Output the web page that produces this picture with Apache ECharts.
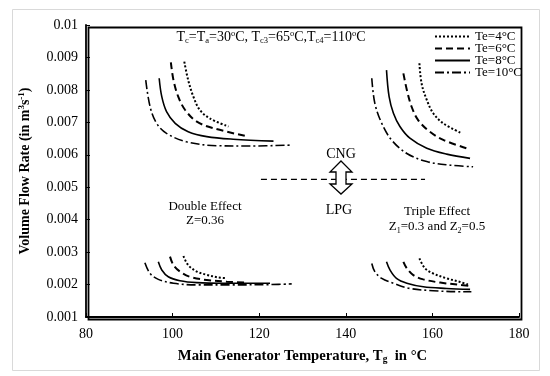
<!DOCTYPE html>
<html><head><meta charset="utf-8">
<script src="https://cdn.jsdelivr.net/npm/echarts@6/dist/echarts.min.js"></script>
<style>html,body{margin:0;padding:0;background:#fff}#c{width:550px;height:376px}</style>
</head><body><div id="c"></div>
<script>
// Axis ranges
const xRange = [80, 180, 20];
const yRange = [0.001, 0.01, 0.001];
const legendNames = ['Te=4°C', 'Te=6°C', 'Te=8°C', 'Te=10°C'];

// Double effect, CNG (upper group)
const de_cng_4 = [[102.7,0.00887],[103.6,0.0083],[104.8,0.00779],[106.3,0.00738],[108.6,0.00712],[112.9,0.00687]];
const de_cng_6 = [[99.6,0.00885],[100.2,0.0083],[101.3,0.00779],[102.9,0.00738],[105.6,0.00702],[109.4,0.00682],[117.5,0.00656]];
const de_cng_8 = [[96.9,0.00836],[97.5,0.00779],[98.6,0.00733],[100.6,0.00697],[103.6,0.00671],[107.9,0.00656],[114.0,0.00648],[123.3,0.00642]];
const de_cng_10 = [[93.8,0.0083],[94.8,0.00748],[96.3,0.00697],[98.6,0.00666],[103.2,0.0064],[110.2,0.00628],[117.9,0.00627],[127.5,0.0063]];
// Triple effect, CNG
const te_cng_4 = [[157.0,0.00882],[157.5,0.0082],[158.7,0.00769],[160.2,0.00728],[162.5,0.00697],[166.8,0.00666]];
const te_cng_6 = [[153.3,0.00851],[154.1,0.008],[155.2,0.00748],[156.7,0.00707],[159.4,0.00671],[162.5,0.00646],[167.9,0.0062]];
const te_cng_8 = [[149.4,0.00861],[150.0,0.00779],[151.0,0.00728],[152.5,0.00687],[154.8,0.00651],[158.7,0.0062],[163.3,0.00602],[168.7,0.00589]];
const te_cng_10 = [[146.0,0.00836],[146.7,0.00759],[148.3,0.00697],[150.6,0.00645],[154.1,0.00604],[158.7,0.00579],[164.1,0.00568],[169.4,0.00563]];
// Double effect, LPG (lower group)
const de_lpg_4 = [[102.5,0.00288],[103.6,0.0026],[105.6,0.0024],[107.9,0.0023],[110.5,0.00222],[112.3,0.0022]];
const de_lpg_6 = [[99.4,0.00286],[100.2,0.0026],[101.7,0.0024],[104.0,0.00224],[107.9,0.00214],[112.5,0.00209],[117.1,0.00206]];
const de_lpg_8 = [[96.7,0.0027],[97.5,0.00245],[99.0,0.00224],[101.7,0.00212],[105.6,0.00206],[111.7,0.00204],[122.5,0.00204]];
const de_lpg_10 = [[93.6,0.00267],[94.8,0.00234],[96.7,0.00216],[100.2,0.00204],[105.6,0.00199],[113.3,0.00199],[122.5,0.002],[127.5,0.00202]];
// Triple effect, LPG
const te_lpg_4 = [[157.0,0.00281],[158.3,0.0025],[160.2,0.00234],[163.3,0.00219],[166.4,0.00208],[168.2,0.002]];
const te_lpg_6 = [[153.3,0.0027],[154.1,0.0025],[155.6,0.00229],[157.9,0.00216],[161.8,0.00206],[166.4,0.00199],[168.3,0.00196]];
const te_lpg_8 = [[149.4,0.0027],[150.2,0.00245],[151.7,0.00219],[154.1,0.00204],[157.9,0.00193],[163.3,0.00188],[168.7,0.00185]];
const te_lpg_10 = [[146.0,0.00265],[146.7,0.0024],[148.3,0.00219],[151.0,0.00204],[154.8,0.00188],[160.2,0.00181],[166.4,0.00178],[169.0,0.00178]];
// CNG / LPG separator
const separator = [[120.4,0.00524],[158.3,0.00524]];

const groups = {
  'Te=4°C': [de_cng_4, te_cng_4, de_lpg_4, te_lpg_4],
  'Te=6°C': [de_cng_6, te_cng_6, de_lpg_6, te_lpg_6],
  'Te=8°C': [de_cng_8, te_cng_8, de_lpg_8, te_lpg_8],
  'Te=10°C': [de_cng_10, te_cng_10, de_lpg_10, te_lpg_10]
};
const styles = {
  'Te=4°C': {type: [2, 2], width: 2},
  'Te=6°C': {type: [7, 4], width: 2},
  'Te=8°C': {type: 'solid', width: 1.6},
  'Te=10°C': {type: [9, 3, 2, 3], width: 1.6}
};

const F = 'Liberation Serif, Times New Roman, serif';
const series = [];
legendNames.forEach(n => {
  groups[n].forEach(d => {
    series.push({
      name: n, type: 'line', data: d, symbol: 'none', smooth: 0.35,
      lineStyle: Object.assign({color: '#000'}, styles[n]),
      itemStyle: {color: '#000'}, silent: true, animation: false
    });
  });
});
series.push({
  name: 'sep', type: 'line', data: separator, symbol: 'none',
  lineStyle: {color: '#000', type: [6, 4], width: 1.3}, animation: false
});

const chart = echarts.init(document.getElementById('c'), null, {renderer: 'canvas'});
chart.setOption({
  backgroundColor: '#fff',
  animation: false,
  grid: {left: 86, right: 31, top: 25, bottom: 59, show: false},
  legend: {
    data: legendNames, orient: 'vertical', left: 434, top: 30,
    itemWidth: 35, itemHeight: 11, itemGap: -1, padding: 0,
    itemStyle: {opacity: 0},
    textStyle: {fontFamily: F, fontSize: 13, lineHeight: 12, color: '#000'}
  },
  xAxis: {
    type: 'value', min: xRange[0], max: xRange[1], interval: xRange[2],
    name: 'Main Generator Temperature, {s|T}{sub|g}{s|  in °C}',
    nameLocation: 'middle', nameGap: 30,
    nameTextStyle: {fontFamily: F, fontSize: 14.7, fontWeight: 'bold', color: '#000',
      rich: {s: {fontFamily: F, fontSize: 14.7, fontWeight: 'bold', color: '#000'},
             sub: {fontFamily: F, fontSize: 9.5, fontWeight: 'bold', color: '#000', verticalAlign: 'bottom', padding: [8, 0, 0, 0]}}},
    axisLine: {onZero: false, lineStyle: {color: '#000', width: 1.8}},
    axisTick: {inside: true, length: 4, lineStyle: {color: '#000'}},
    axisLabel: {fontFamily: F, fontSize: 14, color: '#000', margin: 10},
    splitLine: {show: false}
  },
  yAxis: {
    type: 'value', min: yRange[0], max: yRange[1], interval: yRange[2],
    name: 'Volume Flow Rate (in m{sup|3}s{sup|-1})',
    nameLocation: 'middle', nameGap: 52, nameRotate: 90,
    nameTextStyle: {fontFamily: F, fontSize: 14, fontWeight: 'bold', color: '#000',
      rich: {sup: {fontFamily: F, fontSize: 9, fontWeight: 'bold', color: '#000', verticalAlign: 'top', padding: [0, 0, 8, 0]}}},
    axisLine: {onZero: false, lineStyle: {color: '#000', width: 1.8}},
    axisTick: {inside: true, length: 4, lineStyle: {color: '#000'}},
    axisLabel: {fontFamily: F, fontSize: 14, color: '#000', margin: 8,
      formatter: v => String(+v.toFixed(3))},
    splitLine: {show: false}
  },
  graphic: [
    {type: 'rect', left: 10, top: 7, shape: {width: 527, height: 361}, style: {fill: 'none', stroke: '#d9d9d9', lineWidth: 1}, z: -1, silent: true},
    {type: 'rect', left: 86, top: 25, shape: {width: 433, height: 292}, style: {fill: 'none', stroke: '#000', lineWidth: 1.8}, z: 50, silent: true},
    {type: 'text', x: 271, y: 37, z: 100, style: {
      text: 'T{sb|c}=T{sb|a}=30{sp|o}C, T{sb|c3}=65{sp|o}C,T{sb|c4}=110{sp|o}C',
      fontFamily: F, fontSize: 14, fill: '#000', align: 'center', verticalAlign: 'middle',
      rich: {sb: {fontSize: 8.5, fontFamily: F, verticalAlign: 'bottom', padding: [7, 0, 0, 0]},
             sp: {fontSize: 8.5, fontFamily: F, verticalAlign: 'top', padding: [0, 0, 6, 0]}}}},
    {type: 'text', x: 341, y: 154, z: 100, style: {text: 'CNG', fontFamily: F, fontSize: 14, fill: '#000', align: 'center', verticalAlign: 'middle'}},
    {type: 'text', x: 339, y: 210, z: 100, style: {text: 'LPG', fontFamily: F, fontSize: 14, fill: '#000', align: 'center', verticalAlign: 'middle'}},
    {type: 'polygon', z: 100, shape: {points: [[341,161],[352,172],[346,172],[346,184],[352,184],[341,194],[330,184],[336,184],[336,172],[330,172]]},
      style: {fill: '#fff', stroke: '#000', lineWidth: 1.3}},
    {type: 'text', x: 205, y: 207, z: 100, style: {text: 'Double Effect', fontFamily: F, fontSize: 13, fill: '#000', align: 'center', verticalAlign: 'middle'}},
    {type: 'text', x: 205, y: 221, z: 100, style: {text: 'Z=0.36', fontFamily: F, fontSize: 13, fill: '#000', align: 'center', verticalAlign: 'middle'}},
    {type: 'text', x: 437, y: 212, z: 100, style: {text: 'Triple Effect', fontFamily: F, fontSize: 13, fill: '#000', align: 'center', verticalAlign: 'middle'}},
    {type: 'text', x: 437, y: 227, z: 100, style: {
      text: 'Z{sb|1}=0.3 and Z{sb|2}=0.5', fontFamily: F, fontSize: 13, fill: '#000', align: 'center', verticalAlign: 'middle',
      rich: {sb: {fontSize: 8, fontFamily: F, verticalAlign: 'bottom', padding: [7, 0, 0, 0]}}}}
  ],
  series: series
});
</script></body></html>
